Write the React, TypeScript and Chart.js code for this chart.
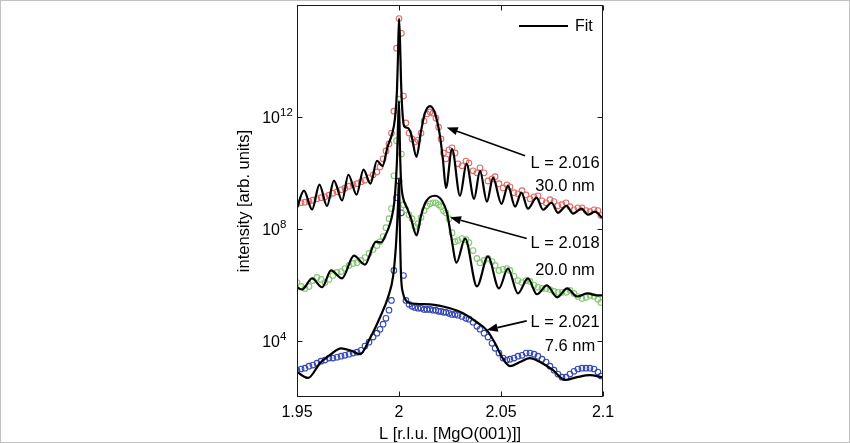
import React, { useEffect, useRef } from 'react';
import { Chart, registerables } from 'chart.js';

Chart.register(...registerables);

const FONT = '"Liberation Sans", Arial, Helvetica, sans-serif';

// ---- axis ticks ----
const xTicks = [1.95, 2, 2.05, 2.1];
const yTickExponents = [4, 8, 12];
const xTitle = 'L [r.l.u. [MgO(001)]]';
const yTitle = 'intensity [arb. units]';

// ---- measured data (log10 of intensity) on a common L grid ----
const dataL = [
  1.9500, 1.9520, 1.9539, 1.9559, 1.9578, 1.9598, 1.9618, 1.9637, 1.9657, 1.9676,
  1.9696, 1.9716, 1.9735, 1.9755, 1.9775, 1.9794, 1.9814, 1.9833, 1.9853, 1.9873,
  1.9892, 1.9907, 1.9922, 1.9936, 1.9951, 1.9963, 1.9975, 1.9988, 2.0000, 2.0012,
  2.0022, 2.0034, 2.0049, 2.0064, 2.0078, 2.0093, 2.0108, 2.0123, 2.0137, 2.0152,
  2.0167, 2.0181, 2.0194, 2.0206, 2.0218, 2.0230, 2.0245, 2.0260, 2.0275, 2.0289,
  2.0309, 2.0328, 2.0343, 2.0363, 2.0382, 2.0397, 2.0417, 2.0436, 2.0456, 2.0471,
  2.0490, 2.0510, 2.0529, 2.0544, 2.0564, 2.0583, 2.0603, 2.0623, 2.0642, 2.0662,
  2.0681, 2.0701, 2.0721, 2.0740, 2.0760, 2.0779, 2.0799, 2.0819, 2.0838, 2.0858,
  2.0877, 2.0897, 2.0917, 2.0936, 2.0956, 2.0975, 2.0990,
];

const redDataLog = [
  8.90, 8.94, 8.96, 8.99, 9.03, 9.08, 9.12, 9.15, 9.21, 9.28,
  9.33, 9.40, 9.46, 9.53, 9.58, 9.62, 9.69, 9.74, 9.83, 9.94,
  10.04, 10.22, 10.51, 10.79, 11.04, 11.43, 12.21, 14.46, 15.52, 14.99,
  12.75, 11.79, 11.43, 11.22, 11.11, 11.18, 11.43, 11.86, 12.11, 12.18,
  12.14, 11.96, 11.64, 11.22, 10.72, 10.51, 10.83, 10.90, 10.72, 10.33,
  10.26, 10.43, 10.36, 10.08, 10.01, 10.19, 10.01, 9.72, 9.79, 9.87,
  9.62, 9.47, 9.58, 9.51, 9.30, 9.26, 9.37, 9.22, 9.08, 9.15,
  9.19, 9.01, 8.94, 9.05, 8.98, 8.83, 8.87, 8.94, 8.80, 8.69,
  8.76, 8.76, 8.66, 8.62, 8.69, 8.66, 8.48,
];

const greenDataLog = [
  6.09, 5.95, 5.88, 5.95, 6.16, 6.27, 6.20, 6.09, 6.20, 6.34,
  6.45, 6.48, 6.59, 6.70, 6.77, 6.80, 6.88, 6.98, 7.13, 7.27,
  7.41, 7.55, 7.73, 8.05, 8.37, 8.73, 9.90, 11.15, 12.64, 10.68,
  8.87, 8.69, 8.51, 8.37, 8.09, 8.19, 8.41, 8.66, 8.83, 8.90,
  8.94, 8.94, 8.87, 8.80, 8.66, 8.58, 8.37, 7.87, 7.55, 7.59,
  7.66, 7.62, 7.52, 7.23, 6.95, 6.80, 6.88, 6.95, 6.84, 6.70,
  6.52, 6.56, 6.59, 6.52, 6.31, 6.16, 6.09, 6.16, 6.13, 5.99,
  5.92, 5.88, 5.88, 5.84, 5.77, 5.74, 5.74, 5.74, 5.81, 5.70,
  5.59, 5.52, 5.56, 5.63, 5.59, 5.49, 5.38,
];

const blueDataLog = [
  2.96, 3.00, 3.03, 3.10, 3.14, 3.21, 3.28, 3.32, 3.39, 3.39,
  3.42, 3.46, 3.49, 3.53, 3.57, 3.60, 3.67, 3.82, 3.96, 4.14,
  4.28, 4.42, 4.60, 4.81, 5.10, 5.45, 6.52, 9.12, 9.72, 8.58,
  6.34, 5.45, 5.31, 5.24, 5.20, 5.17, 5.17, 5.13, 5.13, 5.13,
  5.10, 5.10, 5.06, 5.06, 5.03, 5.03, 4.99, 4.95, 4.95, 4.92,
  4.88, 4.81, 4.78, 4.67, 4.53, 4.42, 4.28, 4.14, 3.92, 3.74,
  3.57, 3.39, 3.32, 3.35, 3.39, 3.46, 3.49, 3.57, 3.57, 3.53,
  3.46, 3.35, 3.25, 3.10, 2.96, 2.82, 2.71, 2.71, 2.82, 2.92,
  3.00, 3.03, 3.03, 3.03, 3.00, 2.89, 2.75,
];

// ---- fits (log10 of intensity) ----
const redFitL = [
  1.9500, 1.9534, 1.9574, 1.9610, 1.9647, 1.9681, 1.9721, 1.9752, 1.9792, 1.9826,
  1.9860, 1.9892, 1.9919, 1.9944, 1.9966, 1.9980, 1.9990, 1.9995, 2.0000, 2.0005,
  2.0010, 2.0015, 2.0025, 2.0044, 2.0059, 2.0086, 2.0108, 2.0127, 2.0152, 2.0176,
  2.0201, 2.0216, 2.0230, 2.0260, 2.0299, 2.0331, 2.0368, 2.0397, 2.0431, 2.0461,
  2.0502, 2.0534, 2.0569, 2.0600, 2.0632, 2.0674, 2.0706, 2.0748, 2.0779, 2.0821,
  2.0853, 2.0895, 2.0926, 2.0961, 2.0995,
];
const redFitLog = [
  8.76, 9.37, 8.70, 9.59, 8.82, 9.73, 9.02, 9.94, 9.23, 10.12,
  9.62, 10.44, 10.25, 10.94, 11.40, 11.94, 12.93, 14.17, 15.52, 14.71,
  13.28, 12.39, 11.68, 11.61, 11.40, 10.58, 11.50, 12.14, 12.39, 12.14,
  11.32, 10.43, 9.47, 10.86, 9.19, 10.33, 9.08, 10.08, 8.98, 9.83,
  8.90, 9.54, 8.80, 9.30, 8.73, 9.12, 8.69, 8.94, 8.58, 8.83,
  8.55, 8.73, 8.51, 8.62, 8.41,
];

const greenFitL = [
  1.9500, 1.9525, 1.9574, 1.9623, 1.9667, 1.9721, 1.9779, 1.9833, 1.9887, 1.9912,
  1.9931, 1.9956, 1.9971, 1.9980, 1.9990, 1.9995, 2.0000, 2.0005, 2.0010, 2.0020,
  2.0039, 2.0059, 2.0086, 2.0108, 2.0132, 2.0176, 2.0211, 2.0235, 2.0255, 2.0282,
  2.0324, 2.0382, 2.0436, 2.0490, 2.0534, 2.0583, 2.0632, 2.0676, 2.0725, 2.0775,
  2.0824, 2.0873, 2.0922, 2.0971, 2.0995,
];
const greenFitLog = [
  5.92, 5.84, 6.24, 5.92, 6.52, 6.24, 7.05, 6.73, 7.55, 7.52,
  7.73, 8.19, 8.66, 9.19, 10.43, 11.68, 12.57, 10.79, 9.72, 9.12,
  8.76, 8.37, 7.77, 8.48, 8.98, 9.19, 9.01, 8.58, 7.77, 6.80,
  7.66, 5.95, 7.02, 5.88, 6.59, 5.70, 6.24, 5.67, 5.99, 5.56,
  5.88, 5.59, 5.70, 5.63, 5.63,
];

const blueFitL = [
  1.9500, 1.9554, 1.9613, 1.9662, 1.9716, 1.9760, 1.9809, 1.9858, 1.9907, 1.9946,
  1.9971, 1.9985, 1.9995, 2.0000, 2.0005, 2.0010, 2.0020, 2.0034, 2.0054, 2.0152,
  2.0250, 2.0314, 2.0382, 2.0431, 2.0471, 2.0505, 2.0544, 2.0593, 2.0642, 2.0691,
  2.0755, 2.0814, 2.0873, 2.0936, 2.0995,
];
const blueFitLog = [
  2.89, 2.68, 3.21, 3.50, 3.74, 3.67, 3.53, 4.10, 4.85, 5.56,
  6.31, 7.41, 8.83, 9.79, 7.77, 6.34, 5.70, 5.45, 5.35, 5.31,
  5.17, 4.99, 4.67, 4.38, 3.92, 3.42, 3.10, 3.25, 3.39, 3.25,
  2.96, 2.61, 2.71, 2.78, 2.71,
];

// ---- annotations (data coordinates: L, log10 intensity) ----
const annotationLabels = ['L = 2.016', 'L = 2.018', 'L = 2.021'];
const annotationSizes = ['30.0 nm', '20.0 nm', '7.6 nm'];
const arrowTips = [[2.0234, 11.63], [2.0250, 8.42], [2.0430, 4.39]];
const arrowTails = [[2.0618, 10.62], [2.0626, 7.66], [2.0626, 4.72]];
const labelPos = [[2.0814, 10.35], [2.0814, 7.49], [2.0814, 4.65]];
const sizePos = [[2.0814, 9.52], [2.0814, 6.51], [2.0838, 3.82]];

const RED = '#dc6c68';
const GREEN = '#84c871';
const BLUE = '#3447b2';

const toPoints = (xs: number[], logs: number[]) =>
  xs.map((x, i) => ({ x, y: Math.pow(10, logs[i]) }));

const decorPlugin = {
  id: 'decor',
  beforeDraw(chart: any) {
    const { ctx, width, height } = chart;
    ctx.save();
    ctx.fillStyle = '#ffffff';
    ctx.fillRect(0, 0, width, height);
    ctx.strokeStyle = '#c2c2c2';
    ctx.lineWidth = 1;
    ctx.strokeRect(0.5, 0.5, width - 1, height - 1);
    ctx.restore();
  },
  afterDraw(chart: any) {
    const { ctx, chartArea: a, scales } = chart;
    const xs = scales.x;
    const ys = scales.y;
    ctx.save();
    // frame
    ctx.strokeStyle = '#1a1a1a';
    ctx.lineWidth = 1;
    const L = Math.round(a.left) + 0.5;
    const R = Math.round(a.right) - 0.5;
    const T = Math.round(a.top) + 0.5;
    const B = Math.round(a.bottom) - 0.5;
    ctx.strokeRect(L, T, R - L, B - T);
    // ticks (inward, mirrored)
    ctx.beginPath();
    xTicks.forEach((v) => {
      const px = Math.round(xs.getPixelForValue(v)) + 0.5;
      ctx.moveTo(px, B); ctx.lineTo(px, B - 5);
      ctx.moveTo(px, T); ctx.lineTo(px, T + 5);
    });
    yTickExponents.forEach((e) => {
      const py = Math.round(ys.getPixelForValue(Math.pow(10, e))) + 0.5;
      ctx.moveTo(L, py); ctx.lineTo(L + 5, py);
      ctx.moveTo(R, py); ctx.lineTo(R - 5, py);
    });
    ctx.stroke();

    // y tick labels 10^n
    ctx.fillStyle = '#000';
    yTickExponents.forEach((e) => {
      const py = ys.getPixelForValue(Math.pow(10, e));
      ctx.font = `16px ${FONT}`;
      ctx.textAlign = 'right';
      ctx.textBaseline = 'middle';
      ctx.fillText('10', a.left - 17, py + 1.5);
      ctx.font = `11.5px ${FONT}`;
      ctx.textAlign = 'left';
      ctx.fillText(String(e), a.left - 17, py - 4);
    });

    // legend
    ctx.strokeStyle = '#000';
    ctx.lineWidth = 2;
    ctx.beginPath();
    ctx.moveTo(a.right - 84, a.top + 21);
    ctx.lineTo(a.right - 35, a.top + 21);
    ctx.stroke();
    ctx.font = `16px ${FONT}`;
    ctx.textAlign = 'left';
    ctx.textBaseline = 'middle';
    ctx.fillText('Fit', a.right - 28, a.top + 21);

    // annotations
    const P = (p: number[]) => [xs.getPixelForValue(p[0]), ys.getPixelForValue(Math.pow(10, p[1]))];
    ctx.font = `16.5px ${FONT}`;
    ctx.textAlign = 'center';
    ctx.textBaseline = 'middle';
    annotationLabels.forEach((lab, i) => {
      const [tx, ty] = P(arrowTips[i]);
      const [sx, sy] = P(arrowTails[i]);
      const ang = Math.atan2(ty - sy, tx - sx);
      const hl = 11, hw = 4.2;
      const bx = tx - hl * Math.cos(ang);
      const by = ty - hl * Math.sin(ang);
      ctx.strokeStyle = '#000';
      ctx.lineWidth = 1.6;
      ctx.beginPath();
      ctx.moveTo(sx, sy);
      ctx.lineTo(bx, by);
      ctx.stroke();
      ctx.beginPath();
      ctx.moveTo(tx, ty);
      ctx.lineTo(bx + hw * Math.sin(ang), by - hw * Math.cos(ang));
      ctx.lineTo(bx - hw * Math.sin(ang), by + hw * Math.cos(ang));
      ctx.closePath();
      ctx.fillStyle = '#000';
      ctx.fill();
      const [lx, ly] = P(labelPos[i]);
      ctx.fillText(lab, lx, ly);
      const [zx, zy] = P(sizePos[i]);
      ctx.fillText(annotationSizes[i], zx, zy);
    });
    ctx.restore();
  },
};

export default function App() {
  const ref = useRef<HTMLCanvasElement | null>(null);
  useEffect(() => {
    if (!ref.current) return;
    const fitStyle = {
      showLine: true,
      borderColor: '#000',
      borderWidth: 2.2,
      pointRadius: 0,
      fill: false,
      cubicInterpolationMode: 'monotone' as const,
      order: 0,
    };
    const dataStyle = (c: string) => ({
      showLine: false,
      pointRadius: 2.8,
      pointBorderWidth: 1.1,
      pointBorderColor: c,
      pointBackgroundColor: 'rgba(255,255,255,0)',
      borderColor: c,
      backgroundColor: 'rgba(255,255,255,0)',
      order: 1,
    });
    const chart = new Chart(ref.current, {
      type: 'line',
      data: {
        datasets: [
          { label: 'Fit', data: toPoints(redFitL, redFitLog), ...fitStyle },
          { label: 'Fit 2.018', data: toPoints(greenFitL, greenFitLog), ...fitStyle },
          { label: 'Fit 2.021', data: toPoints(blueFitL, blueFitLog), ...fitStyle },
          { label: 'L = 2.016', data: toPoints(dataL, redDataLog), ...dataStyle(RED) },
          { label: 'L = 2.018', data: toPoints(dataL, greenDataLog), ...dataStyle(GREEN) },
          { label: 'L = 2.021', data: toPoints(dataL, blueDataLog), ...dataStyle(BLUE) },
        ] as any,
      },
      options: {
        responsive: false,
        animation: false,
        events: [],
        layout: { padding: { left: 235.75, right: 247, top: 4, bottom: 0 } },
        plugins: { legend: { display: false }, tooltip: { enabled: false } },
        scales: {
          x: {
            type: 'linear',
            min: 1.95,
            max: 2.1,
            grid: { display: false, drawTicks: false },
            border: { display: false },
            afterBuildTicks: (s: any) => { s.ticks = xTicks.map((v) => ({ value: v })); },
            afterFit: (s: any) => { s.height = 46; },
            ticks: {
              padding: 6,
              autoSkip: false,
              maxRotation: 0,
              color: '#000',
              font: { family: FONT, size: 16 },
              callback: (v: any) => String(Number(v)),
            },
            title: {
              display: true,
              text: xTitle,
              color: '#000',
              padding: 0,
              font: { family: FONT, size: 16.5, lineHeight: 1 },
            },
          },
          y: {
            type: 'logarithmic',
            min: 1e2,
            max: 1e16,
            grid: { display: false, drawTicks: false },
            border: { display: false },
            afterBuildTicks: (s: any) => { s.ticks = yTickExponents.map((e) => ({ value: Math.pow(10, e) })); },
            afterFit: (s: any) => { s.width = 61.25; },
            ticks: { display: false },
            title: {
              display: true,
              text: yTitle,
              color: '#000',
              padding: 0,
              font: { family: FONT, size: 16.5, lineHeight: 1 },
            },
          },
        },
      } as any,
      plugins: [decorPlugin],
    });
    return () => chart.destroy();
  }, []);
  return (
    <div style={{ position: 'absolute', left: 0, top: 0, width: 850, height: 443 }}>
      <canvas ref={ref} width={850} height={443} style={{ display: 'block' }} />
    </div>
  );
}
